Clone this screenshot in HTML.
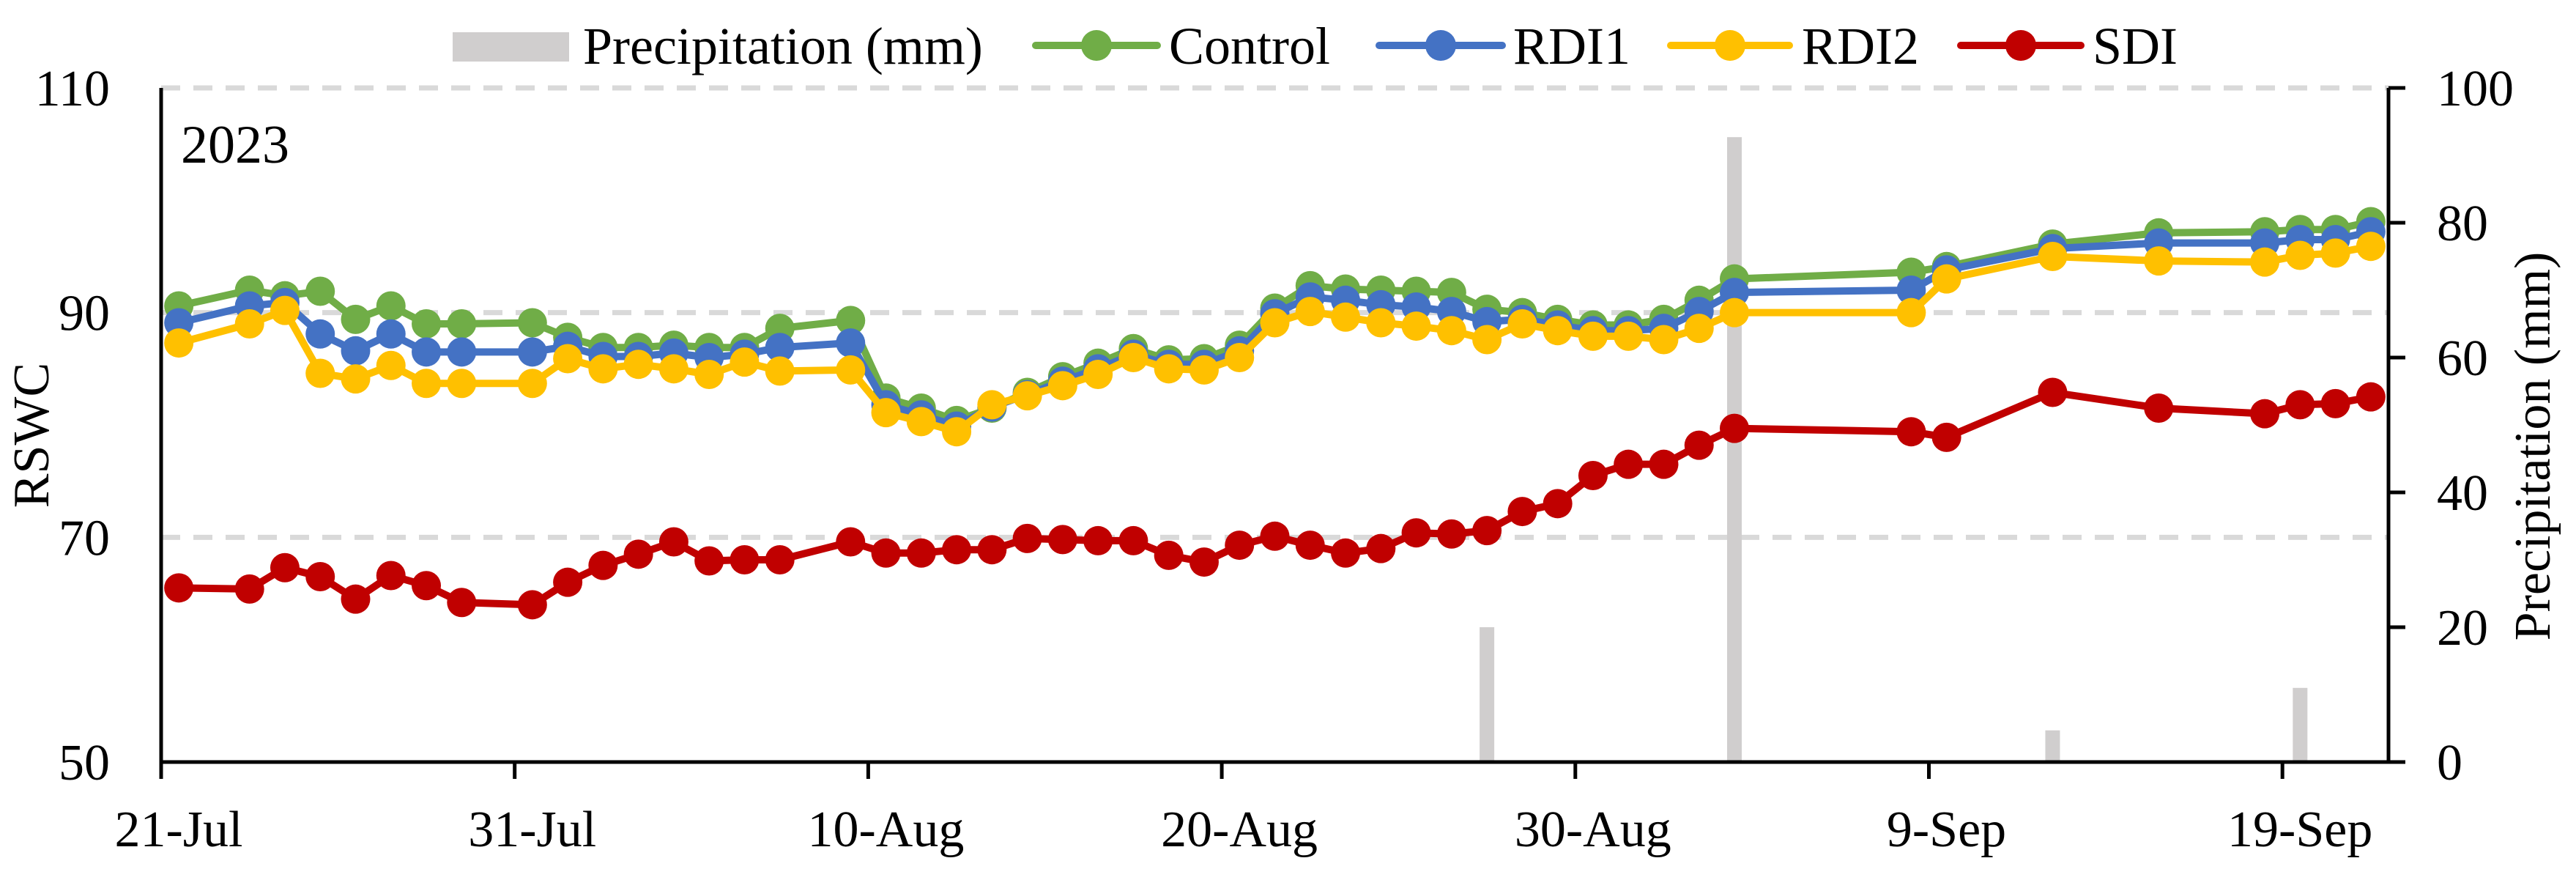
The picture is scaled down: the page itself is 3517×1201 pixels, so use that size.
<!DOCTYPE html>
<html><head><meta charset="utf-8"><style>
html,body{margin:0;padding:0;background:#fff;}
svg{display:block;font-family:"Liberation Serif",serif;}
</style></head><body>
<svg id="chart" width="3517" height="1201" viewBox="0 0 3517 1201" xmlns="http://www.w3.org/2000/svg">
<g id="grid"></g>
<g id="bars"></g>
<g id="series"></g>
<g id="axes"></g>
<g id="legend"></g>
<text x="247" y="222" font-size="74">2023</text>
<text transform="translate(66,594) rotate(-90)" text-anchor="middle" font-size="70">RSWC</text>
<text transform="translate(3481,609) rotate(-90)" text-anchor="middle" font-size="70">Precipitation (mm)</text>
</svg>
<script>
const days = [0.5,2.5,3.5,4.5,5.5,6.5,7.5,8.5,10.5,11.5,12.5,13.5,14.5,15.5,16.5,17.5,19.5,20.5,21.5,22.5,23.5,24.5,25.5,26.5,27.5,28.5,29.5,30.5,31.5,32.5,33.5,34.5,35.5,36.5,37.5,38.5,39.5,40.5,41.5,42.5,43.5,44.5,49.5,50.5,53.5,56.5,59.5,60.5,61.5,62.5];
const controlVals = [90.6,92.0,91.5,91.9,89.4,90.6,89.0,89.0,89.1,87.8,86.9,86.9,87.1,86.9,86.9,88.6,89.3,82.4,81.5,80.4,81.5,82.9,84.3,85.5,86.8,85.8,85.9,87.1,90.4,92.4,92.1,92.0,91.9,91.8,90.3,90.0,89.4,88.9,88.9,89.4,91.1,93.0,93.6,94.1,96.1,97.1,97.2,97.4,97.4,98.1];
const rdi1Vals = [89.1,90.6,90.9,88.1,86.6,88.1,86.5,86.5,86.5,87.0,86.1,86.1,86.4,86.0,86.3,86.9,87.3,81.8,80.9,79.9,81.6,82.7,83.9,85.0,86.3,85.4,85.4,86.6,89.9,91.4,91.1,90.7,90.5,90.1,89.2,89.4,88.9,88.4,88.4,88.6,90.1,91.8,92.0,93.8,95.7,96.2,96.2,96.5,96.5,97.2];
const rdi2Vals = [87.3,89.0,90.2,84.6,84.1,85.3,83.7,83.7,83.7,85.9,85.0,85.4,85.0,84.5,85.6,84.8,84.9,81.1,80.3,79.4,81.8,82.6,83.5,84.5,86.0,85.0,84.9,86.0,89.1,90.1,89.6,89.1,88.8,88.4,87.6,89.0,88.4,87.9,87.9,87.6,88.6,90.0,90.0,93.0,95.0,94.6,94.5,95.1,95.3,95.9];
const sdiVals = [65.5,65.4,67.3,66.5,64.5,66.6,65.7,64.2,64.0,66.0,67.5,68.5,69.6,67.9,68.0,68.0,69.6,68.6,68.6,68.9,68.9,69.9,69.8,69.7,69.7,68.4,67.8,69.3,70.1,69.3,68.6,69.0,70.4,70.3,70.6,72.3,73.0,75.5,76.5,76.5,78.2,79.7,79.4,78.9,82.9,81.5,81.0,81.8,81.9,82.5];
const precipDays = [37.5,44.5,53.5,60.5];
const precipVals = [20,92.7,4.7,11];
const xTickDays = [0,10,20,30,40,50,60];
const xTickLabels = ["21-Jul","31-Jul","10-Aug","20-Aug","30-Aug","9-Sep","19-Sep"];
const yTicks = [50,70,90,110];
const y2Ticks = [0,20,40,60,80,100];

const NS="http://www.w3.org/2000/svg";
const L=220,R=3261,T=120,B=1040,DMAX=63;
const xs=d=>L+(d/DMAX)*(R-L);
const ys=v=>B-(v-50)/60*(B-T);
const y2s=v=>B-v/100*(B-T);
function mk(tag,attrs,parent){const e=document.createElementNS(NS,tag);for(const k in attrs)e.setAttribute(k,attrs[k]);parent.appendChild(e);return e;}
const grid=document.getElementById('grid'),bars=document.getElementById('bars'),series=document.getElementById('series'),axes=document.getElementById('axes'),legend=document.getElementById('legend');

[70,90,110].forEach(v=>{
  const g=mk('line',{x1:L,x2:R,y1:ys(v),y2:ys(v),stroke:'#d9d9d9','stroke-width':7,'stroke-dasharray':'26 18'},grid);
  
  
});
precipDays.forEach((d,i)=>{
  const b=mk('rect',{x:xs(d)-10,width:20,y:y2s(precipVals[i]),height:B-y2s(precipVals[i]),fill:'#d0cece'},bars);
  
  
});
const defs=[['control',controlVals,'#70ad47'],['rdi1',rdi1Vals,'#4472c4'],['rdi2',rdi2Vals,'#ffc000'],['sdi',sdiVals,'#c00000']];
defs.forEach(([n,vals,c])=>{
  const g=mk('g',{},series);
  
  
  const p=mk('polyline',{points:days.map((d,i)=>xs(d)+','+ys(vals[i])).join(' '),fill:'none',stroke:c,'stroke-width':10,'stroke-linejoin':'round'},g);
  
  
  days.forEach((d,i)=>{
    const m=mk('circle',{cx:xs(d),cy:ys(vals[i]),r:20,fill:c},g);
    
    
  });
});
let a=mk('line',{x1:L,x2:L,y1:T,y2:B+2,stroke:'#000','stroke-width':5},axes);


a=mk('line',{x1:R,x2:R,y1:T,y2:B+2,stroke:'#000','stroke-width':5},axes);


a=mk('line',{x1:L-2,x2:R+2,y1:B,y2:B,stroke:'#000','stroke-width':5},axes);


xTickDays.forEach((d,i)=>{
  const t=mk('line',{x1:xs(d),x2:xs(d),y1:B,y2:B+23,stroke:'#000','stroke-width':5},axes);
  
  
  const l=mk('text',{x:xs(d)+24,y:1155,'text-anchor':'middle','font-size':70},axes);
  l.textContent=xTickLabels[i];
  
  
});
yTicks.forEach(v=>{
  const l=mk('text',{x:150,y:ys(v)+24,'text-anchor':'end','font-size':70},axes);
  l.textContent=v;
  
  
});
y2Ticks.forEach(v=>{
  const t=mk('line',{x1:R,x2:R+23,y1:y2s(v),y2:y2s(v),stroke:'#000','stroke-width':5},axes);
  
  
  const l=mk('text',{x:3327,y:y2s(v)+24,'font-size':70},axes);
  l.textContent=v;
  
  
});
const LY=62;
let s=mk('rect',{x:618,y:44,width:159,height:40,fill:'#d0cece'},legend);


let lt=mk('text',{x:796,y:LY+25,'font-size':72},legend);
lt.textContent='Precipitation (mm)';


const legItems=[['Control','#70ad47',1414,1580,1596],['RDI1','#4472c4',1883,2051,2066],['RDI2','#ffc000',2281,2443,2460],['SDI','#c00000',2677,2841,2857]];
legItems.forEach(([n,c,x1,x2,tx])=>{
  const g=mk('g',{},legend);
  
  
  mk('line',{x1:x1,x2:x2,y1:LY,y2:LY,stroke:c,'stroke-width':10,'stroke-linecap':'round'},g);
  mk('circle',{cx:(x1+x2)/2,cy:LY,r:21,fill:c},g);
  const t=mk('text',{x:tx,y:LY+25,'font-size':72},g);
  t.textContent=n;
});
</script>
</body></html>
